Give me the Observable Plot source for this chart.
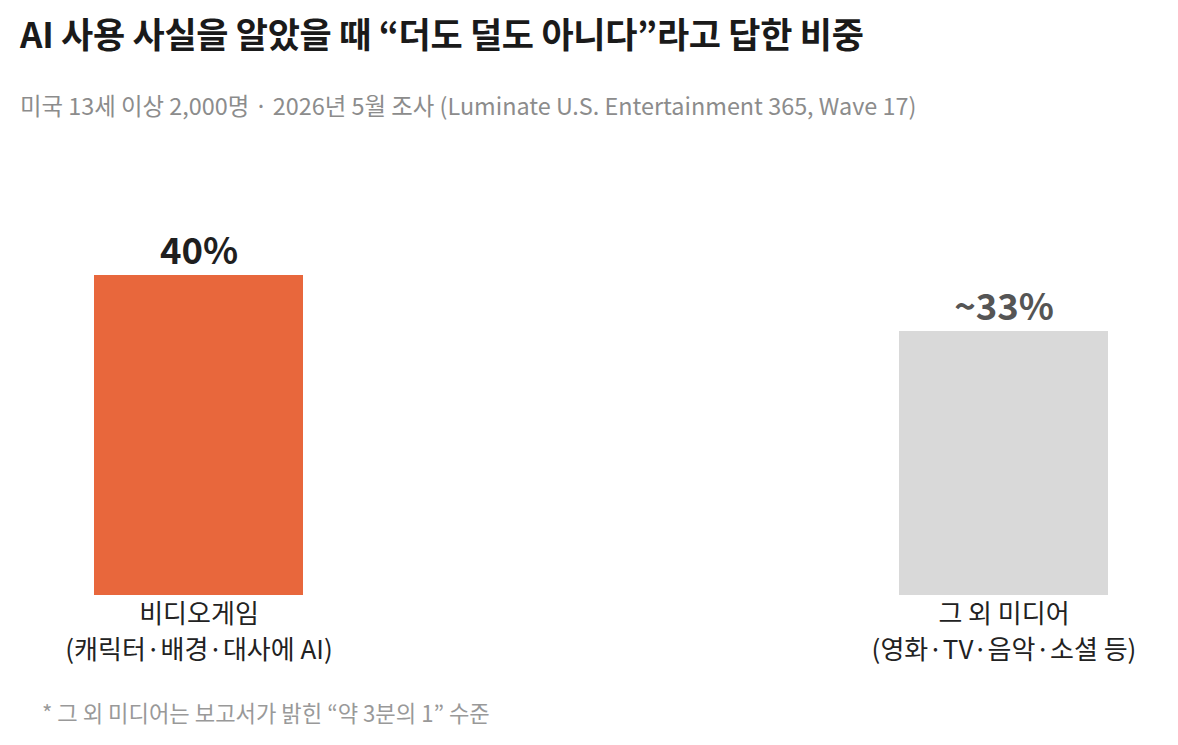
<!DOCTYPE html>
<html><head><meta charset="utf-8">
<script src="https://cdn.jsdelivr.net/npm/d3@7"></script>
<script src="https://cdn.jsdelivr.net/npm/@observablehq/plot@0.6"></script>
<style>
html,body{margin:0;padding:0;background:#fff;}
body{width:1178px;height:745px;position:relative;overflow:hidden;font-family:"Noto Sans CJK KR","Noto Sans",sans-serif;}
#title{position:absolute;left:20px;top:12px;font-size:35px;font-weight:700;color:#1a1a1a;letter-spacing:-0.3px;white-space:nowrap;line-height:1.2;}
#subtitle{position:absolute;left:20px;top:91px;font-size:23.4px;color:#8c8c8c;white-space:nowrap;line-height:1.2;}
#chart{position:absolute;left:0;top:140px;}
#note{position:absolute;left:42px;top:699px;font-size:22.2px;color:#999;white-space:nowrap;line-height:1.2;}
</style></head>
<body>
<div id="title"></div>
<div id="subtitle"></div>
<div id="chart"></div>
<div id="note"></div>
<script>
const titleText = "AI 사용 사실을 알았을 때 “더도 덜도 아니다”라고 답한 비중";
const subtitleText = "미국 13세 이상 2,000명 · 2026년 5월 조사 (Luminate U.S. Entertainment 365, Wave 17)";
const noteText = "* 그 외 미디어는 보고서가 밝힌 “약 3분의 1” 수준";

const categories = ["비디오게임\n(캐릭터·배경·대사에 AI)", "그 외 미디어\n(영화·TV·음악·소셜 등)"];
const values = [40, 33];
const valueLabels = ["40%", "~33%"];
const barColors = ["#e8673c", "#d9d9d9"];
const labelColors = ["#1f1f1f", "#555555"];

document.getElementById("title").textContent = titleText;
document.getElementById("subtitle").textContent = subtitleText;
document.getElementById("note").textContent = noteText;

const data = categories.map((c, i) => ({cat: c, value: values[i], label: valueLabels[i], fill: barColors[i], lc: labelColors[i]}));

const chart = Plot.plot({
  width: 1178,
  height: 540,
  marginLeft: 23,
  marginRight: 0,
  marginTop: 0,
  marginBottom: 0,
  style: {fontFamily: "'Noto Sans CJK KR', sans-serif", background: "transparent"},
  x: {domain: categories, paddingInner: 0.7405, paddingOuter: 0.0869, align: 0.5, axis: null},
  y: {domain: [0, 50], range: [455, 55], axis: null},
  marks: [
    Plot.barY(data, {x: "cat", y: "value", fill: d => d.fill}),
    Plot.text(data, {x: "cat", y: "value", text: "label", fill: d => d.lc, fontSize: 36.5, fontWeight: 700, dy: -12, lineAnchor: "bottom"}),
    Plot.text(data, {x: "cat", y: 0, text: "cat", fill: "#222", fontSize: 26, lineAnchor: "top", lineHeight: 1.38, dy: 2})
  ]
});
document.getElementById("chart").appendChild(chart);
</script>
</body></html>
